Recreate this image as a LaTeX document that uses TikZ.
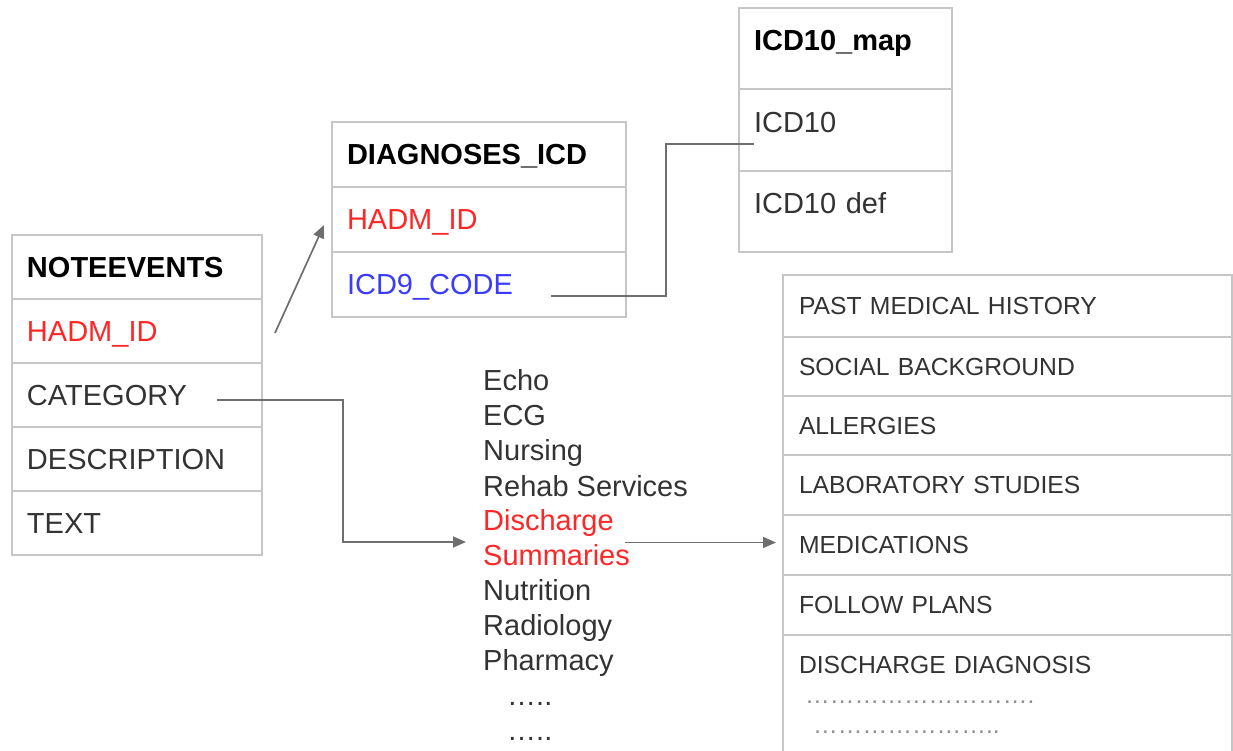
\documentclass[tikz,border=0pt]{standalone}
\usepackage{fontspec}
\setmainfont{Liberation Sans}
\usetikzlibrary{arrows.meta}
\definecolor{bord}{HTML}{C6C6C6}
\definecolor{txt}{HTML}{333333}
\definecolor{conn}{HTML}{6E6E6E}
\definecolor{redt}{HTML}{FF2626}
\definecolor{bluet}{HTML}{3B3BFF}
\newcommand\dotgrp{…}
\begin{document}
\begin{tikzpicture}[x=1pt,y=-1pt,
  cell/.style={draw=bord, line width=1.8pt, anchor=north west, outer sep=0pt,
    inner xsep=15pt, inner ysep=0pt, align=left, text=txt,
    font=\fontsize{29}{33}\selectfont, text height=20.8pt, text depth=0pt},
  hdr/.style={font=\fontsize{29}{33}\selectfont\bfseries, text=black},
  nev/.style={cell, text width=220pt},
  dia/.style={cell, text width=264pt, minimum height=65pt},
  icd/.style={cell, text width=183pt, text depth=16pt},
  sec/.style={cell, text width=417pt, inner xsep=16pt,
    font=\fontsize{24.7}{28}\selectfont, text height=17.7pt},
  item/.style={anchor=base west, inner sep=0pt, text=txt,
    font=\fontsize{29}{35}\selectfont},
  dots/.style={anchor=base west, inner sep=0pt, text=txt!55,
    font=\fontsize{24.7}{28}\selectfont},
  link/.style={draw=conn, line width=1.7pt},
  arr/.style={link, -{Triangle[length=13pt,width=11pt]}, color=conn}
]
\useasboundingbox (0,0) rectangle (1233,751);

% NOTEEVENTS
\node[nev, hdr, minimum height=64pt] (ne0) at (12,235) {NOTEEVENTS};
\node[nev, minimum height=64pt, text=redt] (ne1) at (12,299) {HADM\_ID};
\node[nev, minimum height=64pt] (ne2) at (12,363) {CATEGORY};
\node[nev, minimum height=64pt] (ne3) at (12,427) {DESCRIPTION};
\node[nev, minimum height=64pt] (ne4) at (12,491) {TEXT};

% DIAGNOSES_ICD
\node[dia, hdr] (dg0) at (332,122) {DIAGNOSES\_ICD};
\node[dia, text=redt] (dg1) at (332,187) {HADM\_ID};
\node[dia, text=bluet] (dg2) at (332,252) {ICD9\_CODE};

% ICD10_map
\node[icd, hdr, minimum height=81pt] (ic0) at (739,8) {ICD10\_map};
\node[icd, minimum height=82pt] (ic1) at (739,89) {ICD10};
\node[icd, minimum height=81pt] (ic2) at (739,171) {ICD10 def};

% Discharge summary sections
\node[sec, minimum height=62pt] (rt0) at (783,275) {PAST MEDICAL HISTORY};
\node[sec, minimum height=59pt] (rt1) at (783,337) {SOCIAL BACKGROUND};
\node[sec, minimum height=59pt] (rt2) at (783,396) {ALLERGIES};
\node[sec, minimum height=60pt] (rt3) at (783,455) {LABORATORY STUDIES};
\node[sec, minimum height=60pt] (rt4) at (783,515) {MEDICATIONS};
\node[sec, minimum height=60pt] (rt5) at (783,575) {FOLLOW PLANS};
\node[sec, draw=none, minimum height=60pt] (rt6) at (783,635) {DISCHARGE DIAGNOSIS};
\draw[draw=bord, line width=1.8pt] (783,760) -- (rt6.north west) -- (rt6.north east) -- (1232,760);
\node[dots] (rd1) at (805,703.5) {\dotgrp\dotgrp\dotgrp\dotgrp\dotgrp\dotgrp\dotgrp\dotgrp\dotgrp.};
\node[dots] (rd2) at (813,733.5) {\dotgrp\dotgrp\dotgrp\dotgrp\dotgrp\dotgrp\dotgrp..};

% Category list
\node[item] (l1) at (483,390) {Echo};
\node[item] (l2) at (483,425) {ECG};
\node[item] (l3) at (483,460) {Nursing};
\node[item] (l4) at (483,496) {Rehab Services};
\node[item, text=redt] (l5) at (483,530) {Discharge};
\node[item, text=redt] (l6) at (483,565) {Summaries};
\node[item] (l7) at (483,600) {Nutrition};
\node[item] (l8) at (483,635) {Radiology};
\node[item] (l9) at (483,670) {Pharmacy};
\node[item] (l10) at (507,705) {\dotgrp..};
\node[item] (l11) at (507,740) {\dotgrp..};

% connectors
\coordinate (h1) at (275,333);
\coordinate (h2) at (324,225);
\draw[arr] (h1) -- (h2);

\coordinate (c1) at (217,400);
\coordinate (c2) at (466,542);
\draw[arr] (c1) -- ++(126,0) |- (c2);

\coordinate (i1) at (551,296);
\coordinate (i2) at (754,144);
\draw[link] (i1) -- ++(115,0) |- (i2);

\coordinate (d1) at (625,542.5);
\coordinate (d2) at (776,542.5);
\draw[arr] (d1) -- (d2);
\end{tikzpicture}
\end{document}
